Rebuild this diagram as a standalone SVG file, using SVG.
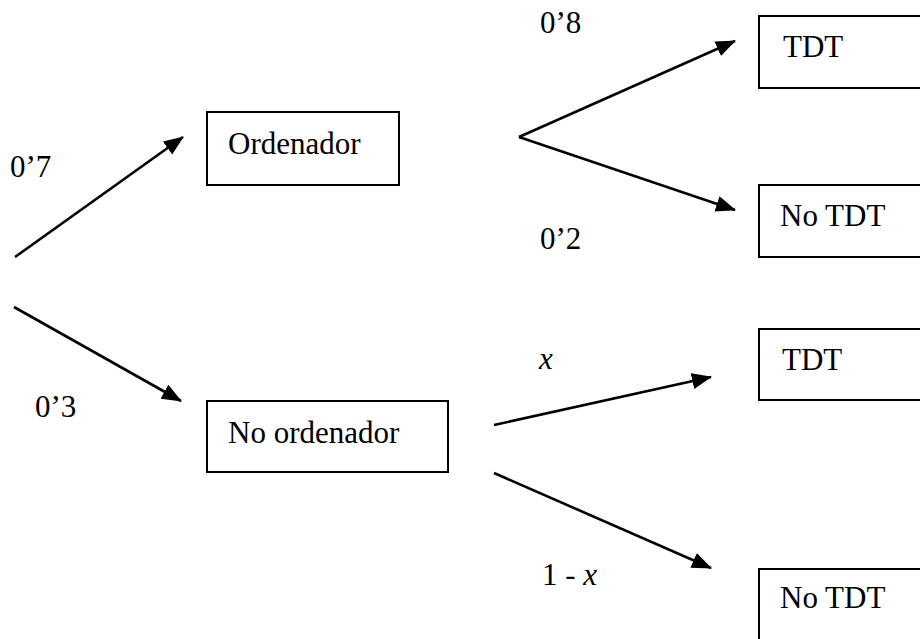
<svg xmlns="http://www.w3.org/2000/svg" width="920" height="639" viewBox="0 0 920 639">
  <defs>
    <marker id="ah" markerUnits="userSpaceOnUse" markerWidth="20" markerHeight="16" refX="19" refY="8" orient="auto">
      <path d="M0,0 L20,8 L0,16 z" fill="#000"/>
    </marker>
    <style>
      .box { fill: #fff; stroke: #000; stroke-width: 2; }
      .t { font-family: 'Liberation Serif', Tinos, 'Times New Roman', 'DejaVu Serif', serif; font-size: 31px; fill: #000; }
      .i { font-style: italic; }
      .c { stroke: #000; stroke-width: 2.6; fill: none; }
      .a { marker-end: url(#ah); }
    </style>
  </defs>
  <rect width="920" height="639" fill="#fff"/>

  <g id="connectors">
    <line class="c a" x1="15" y1="257" x2="183" y2="137"/>
    <line class="c a" x1="14" y1="307" x2="181" y2="401"/>
    <line class="c a" x1="519" y1="137" x2="735" y2="41"/>
    <line class="c a" x1="519" y1="137" x2="735" y2="210"/>
    <line class="c a" x1="494" y1="425" x2="711" y2="377"/>
    <line class="c a" x1="494" y1="473" x2="711" y2="568"/>
  </g>

  <g id="labels">
    <text class="t" x="10" y="177">0’7</text>
    <text class="t" x="35" y="417">0’3</text>
    <text class="t" x="540" y="33">0’8</text>
    <text class="t" x="540" y="249">0’2</text>
    <text class="t i" x="539" y="369">x</text>
    <text class="t" x="542" y="585">1 - <tspan class="i">x</tspan></text>
  </g>

  <g id="ordenador">
    <rect class="box" x="207" y="112" width="192" height="73"/>
    <text class="t" x="228" y="154">Ordenador</text>
  </g>
  <g id="no-ordenador">
    <rect class="box" x="207" y="401" width="241" height="71"/>
    <text class="t" x="228" y="443">No ordenador</text>
  </g>
  <g id="tdt-1">
    <rect class="box" x="759" y="16" width="200" height="72"/>
    <text class="t" x="783" y="57">TDT</text>
  </g>
  <g id="no-tdt-1">
    <rect class="box" x="759" y="185" width="200" height="72"/>
    <text class="t" x="780" y="226">No TDT</text>
  </g>
  <g id="tdt-2">
    <rect class="box" x="759" y="329" width="200" height="71"/>
    <text class="t" x="782" y="370">TDT</text>
  </g>
  <g id="no-tdt-2">
    <rect class="box" x="759" y="569" width="200" height="100"/>
    <text class="t" x="780" y="608">No TDT</text>
  </g>
</svg>
